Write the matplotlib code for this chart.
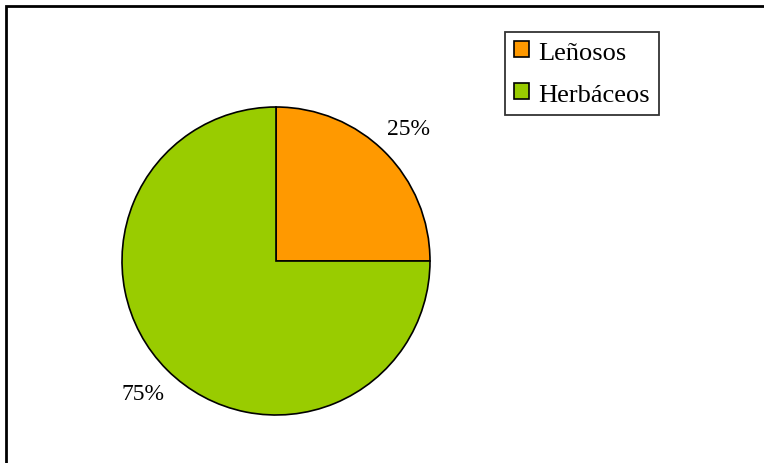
import matplotlib.pyplot as plt
from matplotlib.patches import Rectangle

labels = ['Leñosos', 'Herbáceos']
values = [25, 75]
colors = ['#FF9900', '#99CC00']

plt.rcParams['font.family'] = ['Liberation Serif', 'DejaVu Serif']

W, H = 764, 464
fig = plt.figure(figsize=(W / 100, H / 100), dpi=100)
ax = fig.add_axes([0, 0, 1, 1])
ax.set_xlim(0, W)
ax.set_ylim(0, H)
ax.set_aspect('equal')

# outer frame (only top and left edges visible in the image)
fig.patches.append(Rectangle((5.5 / W, -0.1), 1.2, (H - 6.5) / H + 0.1,
                             transform=fig.transFigure, fill=False,
                             edgecolor='black', linewidth=2))

wedges, texts, autotexts = ax.pie(
    values, colors=colors, startangle=90, counterclock=False,
    center=(276, H - 262), radius=154, autopct='%1.0f%%', pctdistance=1.22,
    wedgeprops=dict(edgecolor='black', linewidth=1.2),
    textprops=dict(fontsize=17), frame=True)
ax.axis('off')

leg = fig.legend(wedges, labels, loc='upper left',
                 bbox_to_anchor=(505 / W, 1 - 33 / H), fontsize=19,
                 frameon=True, fancybox=False, edgecolor='black',
                 handlelength=0.55, handleheight=0.55, handletextpad=0.35,
                 labelspacing=0.75, borderpad=0.35, borderaxespad=0)
leg.get_frame().set_linewidth(1.3)

fig.savefig('out.png', dpi=100)
